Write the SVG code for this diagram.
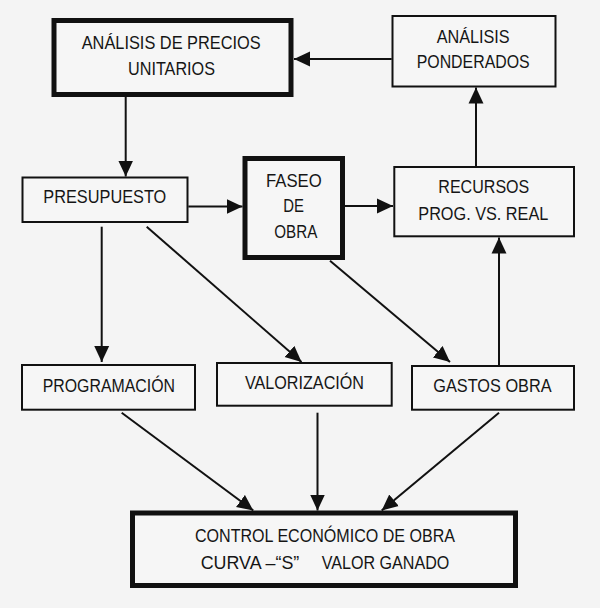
<svg xmlns="http://www.w3.org/2000/svg" width="600" height="608" viewBox="0 0 600 608">
<style>
.bg{fill:#f4f4f4}
.box{fill:#f6f6f6;stroke:#111;stroke-width:2}
.thick{stroke-width:5}
.t{font-family:"Liberation Sans",Arial,sans-serif;font-size:19px;fill:#151515}
.c{fill:none;stroke:#111;stroke-width:2}
</style>
<defs>
<marker id="ah" markerUnits="userSpaceOnUse" markerWidth="16" markerHeight="16" viewBox="0 0 15 14" refX="15" refY="7" orient="auto">
<path d="M0,0 L15,7 L0,14 z" fill="#111"/>
</marker>
</defs>
<rect class="bg" x="0" y="0" width="600" height="608"/>
<g id="connectors">
<path class="c" d="M391.7,59 L294,59" marker-end="url(#ah)"/>
<path class="c" d="M125.7,97 L125.7,176.5" marker-end="url(#ah)"/>
<path class="c" d="M476,166 L476,87.5" marker-end="url(#ah)"/>
<path class="c" d="M188.3,206.5 L242.5,206.5" marker-end="url(#ah)"/>
<path class="c" d="M345,206 L393,206" marker-end="url(#ah)"/>
<path class="c" d="M101.7,226.7 L101.7,362" marker-end="url(#ah)"/>
<path class="c" d="M146.7,226.7 L301.5,362" marker-end="url(#ah)"/>
<path class="c" d="M330,260.7 L450,362" marker-end="url(#ah)"/>
<path class="c" d="M499,365 L499,237.5" marker-end="url(#ah)"/>
<path class="c" d="M121.7,412.7 L253.3,510.5" marker-end="url(#ah)"/>
<path class="c" d="M317.5,412.7 L317.5,510.5" marker-end="url(#ah)"/>
<path class="c" d="M499,412.7 L381.7,510.5" marker-end="url(#ah)"/>
</g>
<g id="analisis-precios">
<rect class="box thick" x="54" y="20.5" width="237" height="74"/>
<text class="t" x="81.7" y="49" textLength="179" lengthAdjust="spacingAndGlyphs">ANÁLISIS DE PRECIOS</text>
<text class="t" x="128" y="75" textLength="87" lengthAdjust="spacingAndGlyphs">UNITARIOS</text>
</g>
<g id="analisis-ponderados">
<rect class="box" x="392.5" y="16" width="163" height="70.5"/>
<text class="t" x="436.7" y="42.7" textLength="73" lengthAdjust="spacingAndGlyphs">ANÁLISIS</text>
<text class="t" x="416.7" y="68.3" textLength="113" lengthAdjust="spacingAndGlyphs">PONDERADOS</text>
</g>
<g id="presupuesto">
<rect class="box" x="22.5" y="177.5" width="165" height="44.5"/>
<text class="t" x="43.3" y="203.3" textLength="123" lengthAdjust="spacingAndGlyphs">PRESUPUESTO</text>
</g>
<g id="faseo">
<rect class="box thick" x="245" y="158.5" width="97.5" height="99"/>
<text class="t" x="266" y="186.5" textLength="55.7" lengthAdjust="spacingAndGlyphs">FASEO</text>
<text class="t" x="283.3" y="212" textLength="20.7" lengthAdjust="spacingAndGlyphs">DE</text>
<text class="t" x="274.3" y="237.5" textLength="43" lengthAdjust="spacingAndGlyphs">OBRA</text>
</g>
<g id="recursos">
<rect class="box" x="394.3" y="167" width="179.7" height="69.3"/>
<text class="t" x="438.3" y="193.3" textLength="91" lengthAdjust="spacingAndGlyphs">RECURSOS</text>
<text class="t" x="418.3" y="220" textLength="130" lengthAdjust="spacingAndGlyphs">PROG. VS. REAL</text>
</g>
<g id="programacion">
<rect class="box" x="22" y="365" width="173" height="44.7"/>
<text class="t" x="42.7" y="391.7" textLength="132.3" lengthAdjust="spacingAndGlyphs">PROGRAMACIÓN</text>
</g>
<g id="valorizacion">
<rect class="box" x="217" y="363" width="174.7" height="42.7"/>
<text class="t" x="245" y="389" textLength="119" lengthAdjust="spacingAndGlyphs">VALORIZACIÓN</text>
</g>
<g id="gastos">
<rect class="box" x="412" y="366" width="162" height="43.7"/>
<text class="t" x="433.3" y="391.7" textLength="118.3" lengthAdjust="spacingAndGlyphs">GASTOS OBRA</text>
</g>
<g id="control">
<rect class="box thick" x="132.5" y="513" width="383" height="72.5"/>
<text class="t" x="195" y="541.5" textLength="260" lengthAdjust="spacingAndGlyphs">CONTROL ECONÓMICO DE OBRA</text>
<text class="t" y="569"><tspan x="200.7" textLength="98.6" lengthAdjust="spacingAndGlyphs">CURVA –“S”</tspan><tspan x="321.7" textLength="127.6" lengthAdjust="spacingAndGlyphs">VALOR GANADO</tspan></text>
</g>
</svg>
